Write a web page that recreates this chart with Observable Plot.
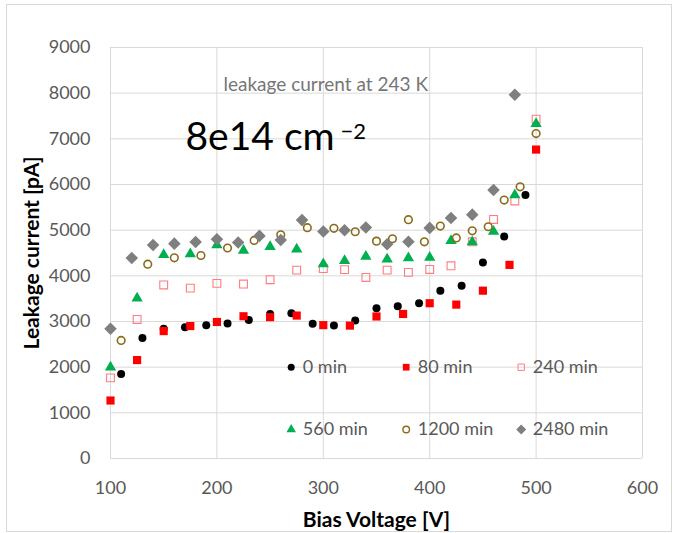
<!DOCTYPE html>
<html>
<head>
<meta charset="utf-8">
<script src="https://cdn.jsdelivr.net/npm/d3@7"></script>
<script src="https://cdn.jsdelivr.net/npm/@observablehq/plot@0.6"></script>
<style>
  html, body { margin: 0; padding: 0; background: #fff; }
  #chart { position: relative; width: 673px; height: 533px; font-family: Lato, "Open Sans", sans-serif; }
  #border { position: absolute; left: 6px; top: 4px; width: 666px; height: 528px; border: 1px solid #d9d9d9; box-sizing: border-box; pointer-events: none; }
</style>
</head>
<body>
<div id="chart"><div id="border"></div></div>
<script>
// Leakage current vs. bias voltage at 243 K, fluence 8e14 cm^-2, per annealing time
const seriesNames = ["0 min", "80 min", "240 min", "560 min", "1200 min", "2480 min"];

const voltage0 = [110, 130, 150, 170, 190, 210, 230, 250, 270, 290, 310, 330, 350, 370, 390, 410, 430, 450, 470, 490];
const current0 = [1850, 2640, 2840, 2875, 2920, 2955, 3035, 3165, 3180, 2950, 2910, 3020, 3290, 3335, 3400, 3675, 3785, 4290, 4860, 5770];

const voltage80 = [100, 125, 150, 175, 200, 225, 250, 275, 300, 325, 350, 375, 400, 425, 450, 475, 500];
const current80 = [1270, 2155, 2790, 2900, 2990, 3115, 3095, 3130, 2920, 2910, 3110, 3165, 3400, 3370, 3675, 4240, 6765];

const voltage240 = [100, 125, 150, 175, 200, 225, 250, 275, 300, 320, 340, 360, 380, 400, 420, 440, 460, 480, 500];
const current240 = [1765, 3045, 3800, 3730, 3835, 3820, 3915, 4125, 4160, 4135, 3965, 4125, 4075, 4140, 4220, 4745, 5235, 5640, 7430];

const voltage560 = [100, 125, 150, 175, 200, 225, 250, 275, 300, 320, 340, 360, 380, 400, 420, 440, 460, 480, 500];
const current560 = [2000, 3510, 4460, 4480, 4675, 4555, 4635, 4580, 4260, 4330, 4425, 4365, 4390, 4400, 4770, 4740, 4970, 5770, 7330];

const voltage1200 = [110, 135, 160, 185, 210, 235, 260, 285, 310, 330, 350, 365, 380, 395, 410, 425, 440, 455, 470, 485, 500];
const current1200 = [2585, 4255, 4395, 4445, 4610, 4775, 4900, 5055, 5040, 4965, 4760, 4810, 5230, 4745, 5090, 4830, 4985, 5075, 5660, 5950, 7115];

const voltage2480 = [100, 120, 140, 160, 180, 200, 220, 240, 260, 280, 300, 320, 340, 360, 380, 400, 420, 440, 460, 480];
const current2480 = [2840, 4390, 4675, 4705, 4740, 4800, 4730, 4875, 4785, 5220, 4970, 5000, 5060, 4690, 4745, 5050, 5265, 5340, 5880, 7965];

const xTicks = [100, 200, 300, 400, 500, 600];
const yTicks = [0, 1000, 2000, 3000, 4000, 5000, 6000, 7000, 8000, 9000];

// Rotated-square marker (equal width and height)
const rhombus = {
  draw(context, size) {
    const r = Math.sqrt(size / 2);
    context.moveTo(0, -r);
    context.lineTo(r, 0);
    context.lineTo(0, r);
    context.lineTo(-r, 0);
    context.closePath();
  }
};

// Marker style per series
const styles = [
  {symbol: "circle", fill: "#000000", r: 4},
  {symbol: "square", fill: "#ff0000", r: 4.6},
  {symbol: "square", fill: "none", stroke: "#ff7c80", strokeWidth: 1.1, r: 4.4},
  {symbol: "triangle", fill: "#00b050", r: 4.2},
  {symbol: "circle", fill: "none", stroke: "#8b6b1a", strokeWidth: 1.6, r: 3.8},
  {symbol: rhombus, fill: "#7f7f7f", r: 5}
];
const legendStyles = [
  {symbol: "circle", fill: "#000000", r: 3.5},
  {symbol: "square", fill: "#ff0000", r: 3.8},
  {symbol: "square", fill: "none", stroke: "#ff7c80", strokeWidth: 1, r: 3.6},
  {symbol: "triangle", fill: "#00b050", r: 3.5},
  {symbol: "circle", fill: "none", stroke: "#8b6b1a", strokeWidth: 1.4, r: 3.3},
  {symbol: rhombus, fill: "#7f7f7f", r: 4}
];

const voltages = [voltage0, voltage80, voltage240, voltage560, voltage1200, voltage2480];
const currents = [current0, current80, current240, current560, current1200, current2480];
const tables = voltages.map((vs, i) => vs.map((v, j) => ({voltage: v, current: currents[i][j], series: seriesNames[i]})));

const grid = "#d9d9d9";
const textGray = "#595959";

const marks = [
  Plot.gridX(xTicks, {stroke: grid, strokeOpacity: 1}),
  Plot.gridY(yTicks, {stroke: grid, strokeOpacity: 1}),
  Plot.axisX(xTicks, {tickSize: 0, tickPadding: 23, label: null, fill: textGray, fontSize: 18, tickFormat: d => String(d)}),
  Plot.axisY(yTicks, {tickSize: 0, tickPadding: 20, label: null, fill: textGray, fontSize: 18, tickFormat: d => String(d)}),
  ...tables.map((t, i) => Plot.dot(t, {x: "voltage", y: "current", ...styles[i]})),
  // In-plot legend, two rows of three
  ...seriesNames.map((name, i) => Plot.dot([name], {
    frameAnchor: "top-left", dx: 180.7 + (i % 3) * 115, dy: 319.7 + Math.floor(i / 3) * 62.3, ...legendStyles[i]
  })),
  ...seriesNames.map((name, i) => Plot.text([name], {
    frameAnchor: "top-left", dx: 192.3 + (i % 3) * 115, dy: 319.7 + Math.floor(i / 3) * 62.3,
    text: d => d, textAnchor: "start", lineAnchor: "middle", fill: textGray, fontSize: 18
  })),
  // Annotations
  Plot.text(["leakage current at 243 K"], {
    frameAnchor: "top-left", dx: 113, dy: 37.6, text: d => d, textAnchor: "start", lineAnchor: "middle", fill: "#767676", fontSize: 19
  }),
  Plot.text(["8e14 cm"], {
    frameAnchor: "top-left", dx: 75, dy: 90.5, text: d => d, textAnchor: "start", lineAnchor: "middle", fill: "#000", fontSize: 39
  }),
  Plot.text(["\u22122"], {
    frameAnchor: "top-left", dx: 230, dy: 84, text: d => d, textAnchor: "start", lineAnchor: "middle", fill: "#000", fontSize: 22
  }),
  // Axis titles
  Plot.text(["Leakage current [pA]"], {
    frameAnchor: "left", dx: -78, text: d => d, rotate: -90, textAnchor: "middle", lineAnchor: "middle",
    fill: "#000", fontWeight: "bold", fontSize: 21
  }),
  Plot.text(["Bias Voltage [V]"], {
    frameAnchor: "bottom", dy: 61.3, text: d => d, textAnchor: "middle", lineAnchor: "middle",
    fill: "#000", fontWeight: "bold", fontSize: 21
  })
];

const plot = Plot.plot({
  width: 673,
  height: 533,
  marginLeft: 110,
  marginRight: 31,
  marginTop: 47,
  marginBottom: 75,
  style: {fontFamily: "Lato, 'Open Sans', sans-serif", fontSize: "18px", color: textGray, background: "transparent"},
  x: {domain: [100, 600]},
  y: {domain: [0, 9000]},
  marks
});

document.getElementById("chart").appendChild(plot);
</script>
</body>
</html>
